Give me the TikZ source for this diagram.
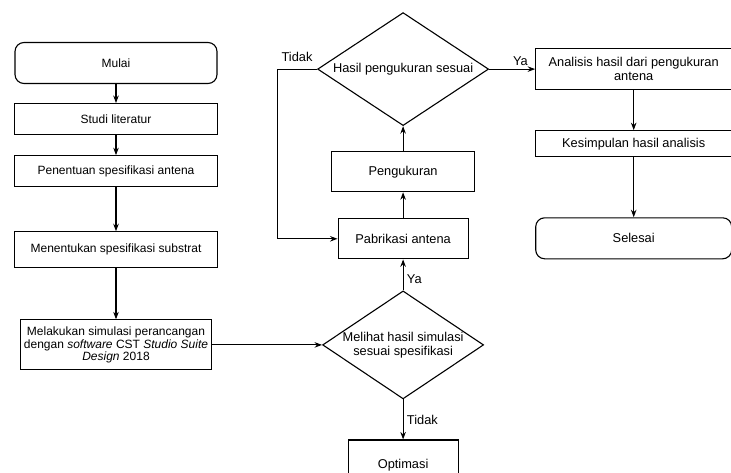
\documentclass[tikz,border=0pt]{standalone}
\usepackage{fontspec}
\setmainfont{Liberation Sans}
\usetikzlibrary{shapes.geometric,arrows.meta,positioning}

\begin{document}
\begin{tikzpicture}[
	x=1pt, y=-1pt,
	font=\fontsize{12}{12.8}\selectfont,
	line width=1.1pt,
	besar/.style={font=\fontsize{12.8}{13.6}\selectfont},
	proses/.style={rectangle, draw, align=center, inner xsep=2pt, minimum width=203pt, minimum height=31pt},
	terminal/.style={rectangle, draw, rounded corners=9pt, minimum width=202pt, minimum height=41pt},
	keputusan/.style={diamond, draw, align=center, aspect=1.5, inner sep=0pt, besar},
	panah/.style={-{Stealth[length=7.5pt,width=5.5pt]}},
	node distance=20pt
	]
	\path[use as bounding box, clip] (0,0) rectangle (731,472);

	% kolom kiri
	\node[terminal] (mulai) at (116,63) {Mulai};
	\node[proses, below=19pt of mulai] (studi) {Studi literatur};
	\node[proses, below=20pt of studi] (penentuan) {Penentuan spesifikasi antena};
	\node[proses, below=44pt of penentuan, minimum height=36pt] (menentukan) {Menentukan spesifikasi substrat};
	\node[proses, below=51pt of menentukan, minimum width=191pt, minimum height=50pt] (simulasi) {Melakukan simulasi perancangan\\dengan \textit{software} CST \textit{Studio Suite}\\\textit{Design} 2018};

	% kolom tengah
	\node[keputusan, right=110pt of simulasi, minimum width=161pt, minimum height=108pt] (cekSimulasi) {Melihat hasil simulasi\\sesuai spesifikasi};
	\node[proses, besar, above=31pt of cekSimulasi, minimum width=130pt, minimum height=40pt] (pabrikasi) {Pabrikasi antena};
	\node[proses, besar, above=26pt of pabrikasi, minimum width=143pt, minimum height=40pt] (pengukuran) {Pengukuran};
	\node[keputusan, above=25pt of pengukuran, minimum width=171pt, minimum height=113pt] (cekUkur) {Hasil pengukuran sesuai};
	\node[proses, besar, below=40pt of cekSimulasi, minimum width=110pt, minimum height=50pt] (optimasi) {Optimasi};

	% kolom kanan
	\node[proses, besar, right=46pt of cekUkur, minimum width=196pt, minimum height=41pt] (analisis) {Analisis hasil dari pengukuran\\antena};
	\node[proses, besar, below=40pt of analisis, minimum width=196pt, minimum height=26pt] (kesimpulan) {Kesimpulan hasil analisis};
	\node[terminal, besar, below=60pt of kesimpulan, minimum width=196pt] (selesai) {Selesai};

	% panah
	\draw[panah] (mulai) -- (studi);
	\draw[panah] (studi) -- (penentuan);
	\draw[panah] (penentuan) -- (menentukan);
	\draw[panah] (menentukan) -- (simulasi);
	\draw[panah] (simulasi) -- (cekSimulasi);
	\draw[panah] (cekSimulasi) -- node[right, besar, pos=0.35] {Ya} (pabrikasi);
	\draw[panah] (cekSimulasi) -- node[right, besar] {Tidak} (optimasi);
	\draw[panah] (pabrikasi) -- (pengukuran);
	\draw[panah] (pengukuran) -- (cekUkur);
	\draw[panah] (cekUkur.west) -- node[above=4pt, besar] {Tidak} ++(-40pt,0) |- (pabrikasi.west);
	\draw[panah] (cekUkur) -- node[above, besar, pos=0.68] {Ya} (analisis);
	\draw[panah] (analisis) -- (kesimpulan);
	\draw[panah] (kesimpulan) -- (selesai);
\end{tikzpicture}
\end{document}
